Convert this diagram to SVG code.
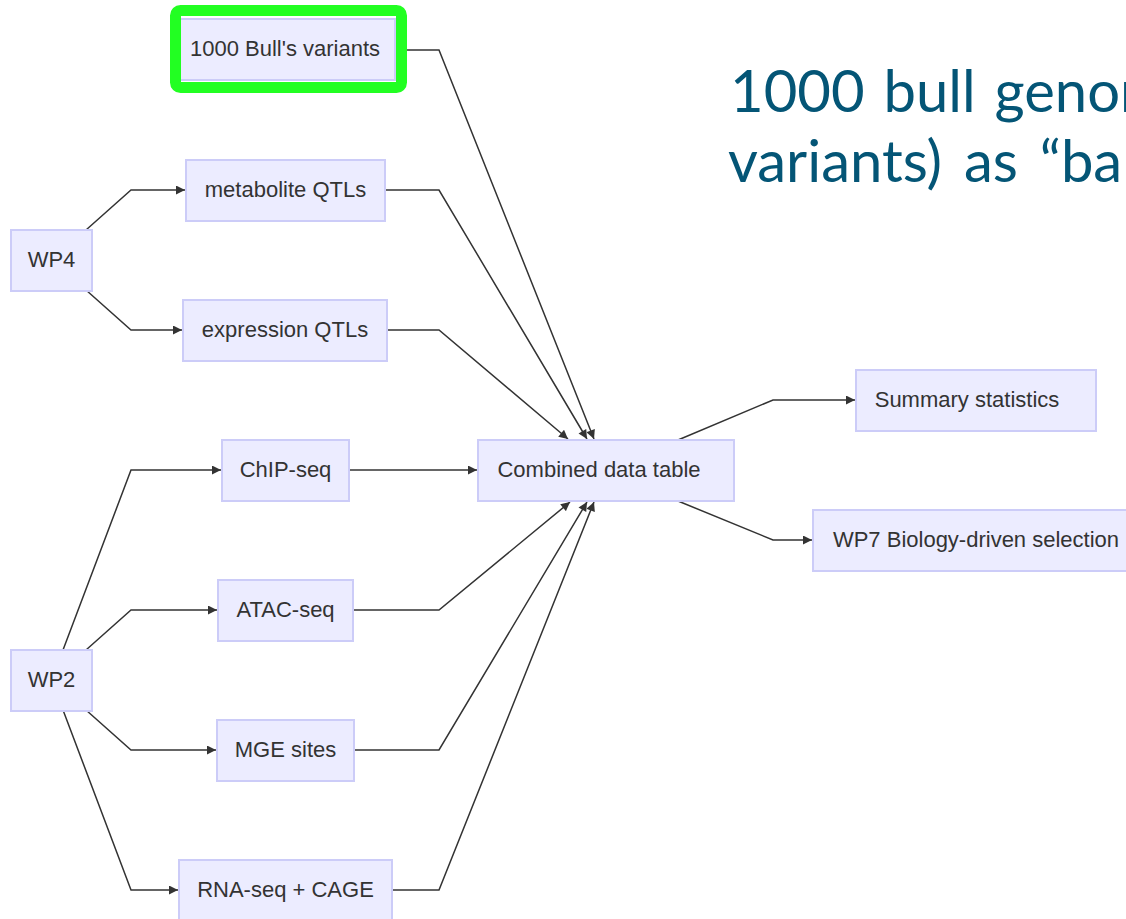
<svg xmlns="http://www.w3.org/2000/svg" width="1126" height="919" viewBox="0 0 1126 919">
  <defs>
    <marker id="arrow" viewBox="0 0 10 10" refX="10" refY="5" markerWidth="10" markerHeight="9" markerUnits="userSpaceOnUse" orient="auto">
      <path d="M0,0 L10,5 L0,10 z" fill="#333333"/>
    </marker>
    <style>
      .node rect { fill: #ECECFF; stroke: #CCCCF8; stroke-width: 2; }
      .node text { font-family: "Liberation Sans", Arial, sans-serif; font-size: 22px; fill: #333333; text-anchor: middle; }
      .edges polyline { fill: none; stroke: #333333; stroke-width: 1.5; marker-end: url(#arrow); }
      .title { font-family: Lato, "Open Sans", sans-serif; font-size: 58px; fill: #045576; }
    </style>
  </defs>
  <rect width="1126" height="919" fill="#FFFFFF"/>

  <!-- heading, running off the right edge -->
  <g id="heading">
    <text class="title" x="730" y="112" word-spacing="4">1000 bull genom</text>
    <text class="title" x="728" y="182" word-spacing="7">variants) as “ba</text>
  </g>

  <!-- connectors -->
  <g class="edges" id="edges">
    <polyline points="86,230 131,190 185,190"/>
    <polyline points="86,290 131,330 182,330"/>
    <polyline points="63,650 131,470 221,470"/>
    <polyline points="86,650 131,610 217,610"/>
    <polyline points="86,710 131,750 216,750"/>
    <polyline points="63,710 131,890 178,890"/>
    <polyline points="395,50 439,50 594,439"/>
    <polyline points="385,190 439,190 587,439"/>
    <polyline points="387,330 439,330 568,439"/>
    <polyline points="349,470 477,470"/>
    <polyline points="353,610 439,610 570,502"/>
    <polyline points="354,750 439,750 587,502"/>
    <polyline points="392,890 439,890 594,502"/>
    <polyline points="678,440 773,400 855,400"/>
    <polyline points="678,501 773,540 812,540"/>
  </g>

  <!-- nodes -->
  <g class="node" id="bull-variants">
    <rect x="175" y="19" width="220" height="61"/>
    <text x="285" y="56">1000 Bull's variants</text>
  </g>
  <g id="highlight">
    <rect x="175.5" y="10.5" width="226" height="77" rx="5" fill="none" stroke="#22FF22" stroke-width="11"/>
  </g>
  <g class="node" id="wp4">
    <rect x="11" y="230" width="81" height="61"/>
    <text x="51.5" y="267">WP4</text>
  </g>
  <g class="node" id="metabolite-qtls">
    <rect x="186" y="160" width="199" height="61"/>
    <text x="285.5" y="197">metabolite QTLs</text>
  </g>
  <g class="node" id="expression-qtls">
    <rect x="183" y="300" width="204" height="61"/>
    <text x="285" y="337">expression QTLs</text>
  </g>
  <g class="node" id="wp2">
    <rect x="11" y="650" width="81" height="61"/>
    <text x="51.5" y="687">WP2</text>
  </g>
  <g class="node" id="chip-seq">
    <rect x="222" y="440" width="127" height="61"/>
    <text x="285.5" y="477">ChIP-seq</text>
  </g>
  <g class="node" id="atac-seq">
    <rect x="218" y="580" width="135" height="61"/>
    <text x="285.5" y="617">ATAC-seq</text>
  </g>
  <g class="node" id="mge-sites">
    <rect x="217" y="720" width="137" height="61"/>
    <text x="285.5" y="757">MGE sites</text>
  </g>
  <g class="node" id="rna-seq-cage">
    <rect x="179" y="860" width="213" height="61"/>
    <text x="285.5" y="897">RNA-seq + CAGE</text>
  </g>
  <g class="node" id="combined-table">
    <rect x="478" y="440" width="256" height="61"/>
    <text x="599" y="477">Combined data table</text>
  </g>
  <g class="node" id="summary-stats">
    <rect x="856" y="370" width="240" height="61"/>
    <text x="967" y="407">Summary statistics</text>
  </g>
  <g class="node" id="wp7-selection">
    <rect x="813" y="510" width="326" height="61"/>
    <text x="976" y="547">WP7 Biology-driven selection</text>
  </g>
</svg>
